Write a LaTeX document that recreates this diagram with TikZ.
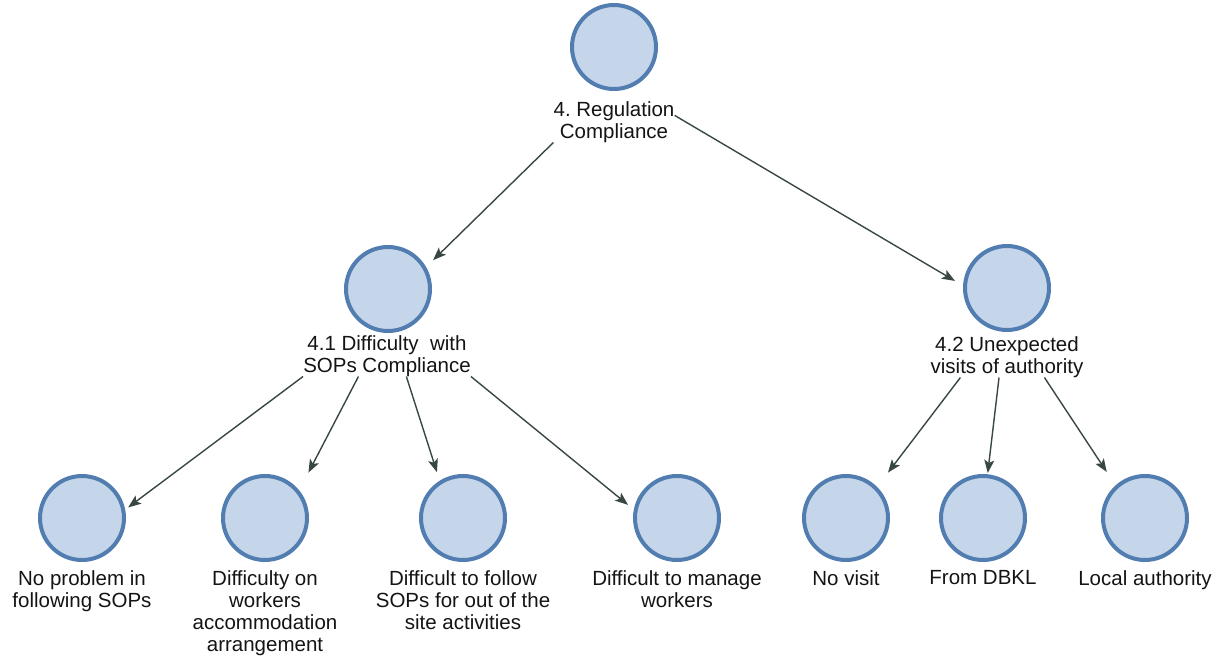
\documentclass[tikz,border=0pt]{standalone}
\usepackage{fontspec}
\setmainfont{Liberation Sans}
\usetikzlibrary{arrows.meta}
\definecolor{cfill}{RGB}{198,214,234}
\definecolor{cline}{RGB}{82,125,176}
\definecolor{arrcol}{RGB}{56,72,64}
\definecolor{txtcol}{RGB}{20,20,20}
\tikzset{
  bubble/.style={circle, draw=cline, fill=cfill, line width=4pt, minimum size=84pt, inner sep=0pt},
  lbl/.style={anchor=north, inner sep=0pt, align=center, text=txtcol, font=\fontsize{20.5}{22}\selectfont\frenchspacing},
  arr/.style={draw=arrcol, line width=1.4pt, -{Stealth[length=13pt, width=10pt, inset=3pt]}}
}
\begin{document}
\begin{tikzpicture}[x=1pt, y=-1pt]
\useasboundingbox (0,0) rectangle (1221,662);
% circles
\node[bubble] (c4)  at (614,47) {};
\node[bubble] (c41) at (388,289) {};
\node[bubble] (c42) at (1007,288) {};
\node[bubble] (c1)  at (82,518) {};
\node[bubble] (c2)  at (265,518) {};
\node[bubble] (c3)  at (463,518) {};
\node[bubble] (c5)  at (677,518) {};
\node[bubble] (c6)  at (846,518) {};
\node[bubble] (c7)  at (983,518) {};
\node[bubble] (c8)  at (1145,518) {};
% labels
\node[lbl] (l4)  at (614,101) {4. Regulation\\Compliance};
\node[lbl] (l41) at (387,335) {4.1 Difficulty\ \ with\\SOPs Compliance};
\node[lbl] (l42) at (1007,336) {4.2 Unexpected\\visits of authority};
\node[lbl] (l1)  at (82,570) {No problem in\\following SOPs};
\node[lbl] (l2)  at (265,570) {Difficulty on\\workers\\accommodation\\arrangement};
\node[lbl] (l3)  at (463,570) {Difficult to follow\\SOPs for out of the\\site activities};
\node[lbl] (l5)  at (677,570) {Difficult to manage\\workers};
\node[lbl] (l6)  at (846,570) {No visit};
\node[lbl] (l7)  at (983,570) {From DBKL};
\node[lbl] (l8)  at (1145,570) {Local authority};
% connectors
\draw[arr, shorten >=9.8pt] (l4.south west) -- (c41.30);
\draw[arr, shorten >=9.4pt] (l4.6) -- (c42.177);
\draw[arr, shorten >=3.7pt] (l41.south west) -- (c1.11);
\draw[arr, shorten >=20pt] (l41.216) -- (c2.39);
\draw[arr, shorten >=9pt] (l41.313) -- (c3.122);
\draw[arr, shorten >=7.5pt] (l41.south east) -- (c5.169);
\draw[arr, shorten >=18pt] (l42.204) -- (c6.45);
\draw[arr, shorten >=1.3pt] (l42.249) -- (c7.84);
\draw[arr, shorten >=16pt] (l42.331) -- (c8.132);
\end{tikzpicture}
\end{document}
